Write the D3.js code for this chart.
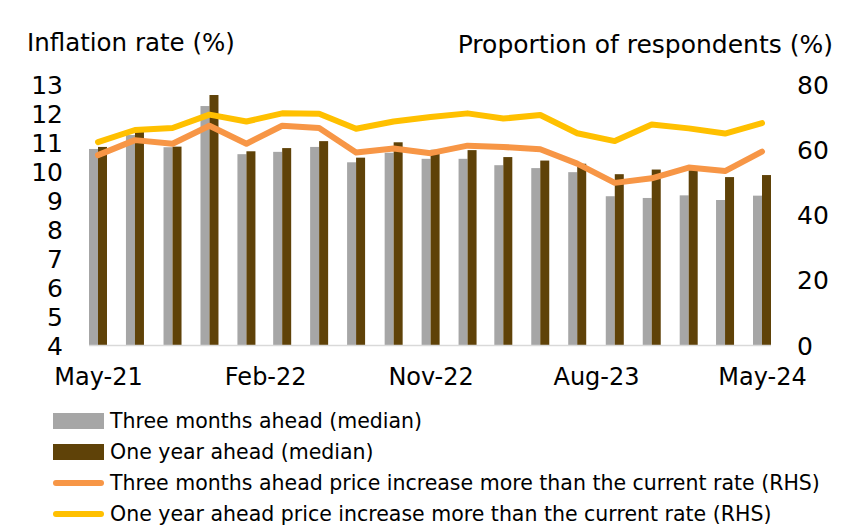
<!DOCTYPE html>
<html>
<head>
<meta charset="utf-8">
<script src="https://cdn.jsdelivr.net/npm/d3@7"></script>
<style>
  body { margin: 0; background: #fff; }
  text { font-family: "DejaVu Sans", sans-serif; fill: #000; }
</style>
</head>
<body>
<div id="chart"></div>
<script>
// survey rounds (bi-monthly)
const rounds = ["May-21", "Jul-21", "Sep-21", "Nov-21", "Jan-22", "Mar-22", "May-22", "Jul-22",
  "Sep-22", "Nov-22", "Jan-23", "Mar-23", "May-23", "Jul-23", "Sep-23", "Nov-23",
  "Jan-24", "Mar-24", "May-24"];

// median inflation expectations (%), left axis
const threeMonthMedian = [10.76, 11.24, 10.82, 12.24, 10.58, 10.66, 10.83, 10.30, 10.63, 10.42,
  10.42, 10.20, 10.10, 9.96, 9.13, 9.07, 9.16, 9.00, 9.15];
const oneYearMedian = [10.83, 11.47, 10.84, 12.62, 10.68, 10.79, 11.03, 10.46, 10.99, 10.73,
  10.72, 10.48, 10.36, 10.25, 9.89, 10.05, 10.03, 9.79, 9.86];

// share of respondents expecting prices to rise faster than now (%), right axis
const threeMonthMore = [58.2, 62.8, 61.7, 67.2, 61.7, 67.2, 66.5, 59.0, 60.2, 58.8,
  61.1, 60.7, 60.0, 55.6, 49.7, 51.1, 54.4, 53.3, 59.3];
const oneYearMore = [62.2, 65.9, 66.5, 70.6, 68.5, 71.0, 70.9, 66.3, 68.5, 69.9,
  71.0, 69.4, 70.5, 64.9, 62.5, 67.6, 66.4, 64.8, 68.0];

const leftTicks = [4, 5, 6, 7, 8, 9, 10, 11, 12, 13];
const rightTicks = [0, 20, 40, 60, 80];

const width = 846, height = 527;
const parse = d3.timeParse("%b-%y");
const dates = rounds.map(parse);

const svg = d3.select("#chart").append("svg")
    .attr("width", width)
    .attr("height", height);

const x = d3.scaleTime()
    .domain(d3.extent(dates))
    .range([98, 762]);

const yLeft = d3.scaleLinear().domain([4, 13]).range([345, 84]);
const yRight = d3.scaleLinear().domain([0, 80]).range([345, 84]);

const barW = 9;

// bars
svg.append("g").selectAll("rect")
    .data(threeMonthMedian)
    .join("rect")
    .attr("x", (d, i) => x(dates[i]) - barW)
    .attr("y", d => yLeft(d))
    .attr("width", barW)
    .attr("height", d => yLeft(4) - yLeft(d))
    .attr("fill", "#a6a6a6");

svg.append("g").selectAll("rect")
    .data(oneYearMedian)
    .join("rect")
    .attr("x", (d, i) => x(dates[i]))
    .attr("y", d => yLeft(d))
    .attr("width", barW)
    .attr("height", d => yLeft(4) - yLeft(d))
    .attr("fill", "#5f4208");

// base line
svg.append("line")
    .attr("x1", 89).attr("x2", 771)
    .attr("y1", yLeft(4) + 0.5).attr("y2", yLeft(4) + 0.5)
    .attr("stroke", "#d9d9d9")
    .attr("stroke-width", 1.5);

// lines
const line = d3.line()
    .x((d, i) => x(dates[i]))
    .y(d => yRight(d));

svg.append("path")
    .datum(threeMonthMore)
    .attr("d", line)
    .attr("fill", "none")
    .attr("stroke", "#f79646")
    .attr("stroke-width", 6)
    .attr("stroke-linejoin", "round")
    .attr("stroke-linecap", "round");

svg.append("path")
    .datum(oneYearMore)
    .attr("d", line)
    .attr("fill", "none")
    .attr("stroke", "#ffc000")
    .attr("stroke-width", 6)
    .attr("stroke-linejoin", "round")
    .attr("stroke-linecap", "round");

// axes
const leftAxis = svg.append("g")
    .attr("transform", "translate(63,0)")
    .call(d3.axisLeft(yLeft).tickValues(leftTicks).tickSize(0).tickPadding(0));
leftAxis.select(".domain").remove();
leftAxis.selectAll("text").style("font-size", "25px").attr("dy", "0.36em");

const rightAxis = svg.append("g")
    .attr("transform", "translate(797,0)")
    .call(d3.axisRight(yRight).tickValues(rightTicks).tickSize(0).tickPadding(0));
rightAxis.select(".domain").remove();
rightAxis.selectAll("text").style("font-size", "25px").attr("dy", "0.36em");

const xTicks = d3.timeMonth.range(dates[0], d3.timeMonth.offset(dates[dates.length - 1], 1), 9);
const bottomAxis = svg.append("g")
    .attr("transform", "translate(0,366)")
    .call(d3.axisBottom(x).tickValues(xTicks).tickFormat(d3.timeFormat("%b-%y")).tickSize(0).tickPadding(0));
bottomAxis.select(".domain").remove();
bottomAxis.selectAll("text").style("font-size", "24px").attr("dy", "0.78em");

// axis titles
svg.append("text")
    .attr("x", 27).attr("y", 51)
    .style("font-size", "24.5px")
    .text("Inflation rate (%)");

svg.append("text")
    .attr("x", 833).attr("y", 53)
    .attr("text-anchor", "end")
    .style("font-size", "25px")
    .text("Proportion of respondents (%)");

// legend
const legendItems = [
  { label: "Three months ahead (median)", color: "#a6a6a6", type: "bar" },
  { label: "One year ahead (median)", color: "#5f4208", type: "bar" },
  { label: "Three months ahead price increase more than the current rate (RHS)", color: "#f79646", type: "line" },
  { label: "One year ahead price increase more than the current rate (RHS)", color: "#ffc000", type: "line" }
];

const legend = svg.append("g").selectAll("g")
    .data(legendItems)
    .join("g")
    .attr("transform", (d, i) => `translate(53,${421 + i * 31})`);

legend.append("rect")
    .attr("x", 0)
    .attr("y", d => d.type === "bar" ? -8 : -3)
    .attr("width", 51)
    .attr("height", d => d.type === "bar" ? 16 : 6)
    .attr("rx", d => d.type === "bar" ? 0 : 3)
    .attr("fill", d => d.color);

legend.append("text")
    .attr("x", 57)
    .attr("dy", "0.36em")
    .style("font-size", "20.5px")
    .text(d => d.label);
</script>
</body>
</html>
